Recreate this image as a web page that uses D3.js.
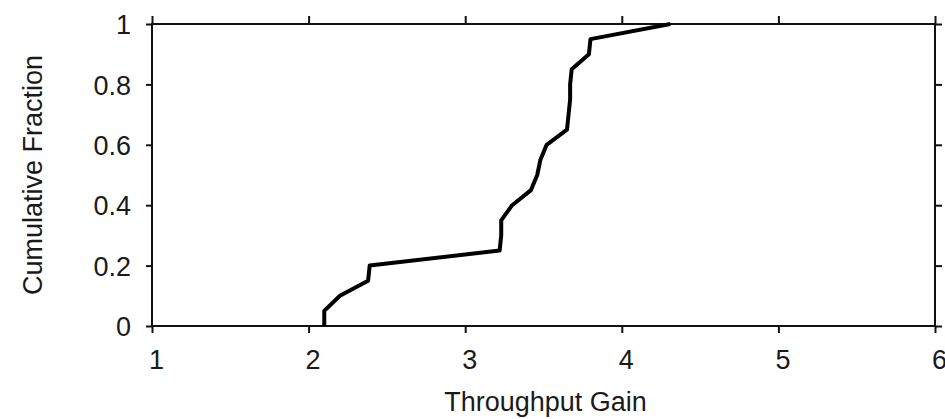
<!DOCTYPE html>
<html>
<head>
<meta charset="utf-8">
<script src="https://cdn.jsdelivr.net/npm/d3@7"></script>
<style>
  html, body { margin: 0; padding: 0; background: #fff; }
  svg { display: block; }
  text { font-family: "Liberation Sans", Arial, Helvetica, sans-serif; fill: #1a1a1a; }
</style>
</head>
<body>
<svg id="chart" width="945" height="419"></svg>
<script>
// Data
const gainValues     = [2.10, 2.10, 2.20, 2.38, 2.39, 3.22, 3.23, 3.23, 3.30, 3.42, 3.46, 3.48, 3.52, 3.65, 3.66, 3.67, 3.67, 3.68, 3.79, 3.80, 4.31];
const fractionValues = [0.00, 0.05, 0.10, 0.15, 0.20, 0.25, 0.30, 0.35, 0.40, 0.45, 0.50, 0.55, 0.60, 0.65, 0.70, 0.75, 0.80, 0.85, 0.90, 0.95, 1.00];
const xTicks = [1, 2, 3, 4, 5, 6];
const yTicks = [0, 0.2, 0.4, 0.6, 0.8, 1];
const yTickLabels = ["0", "0.2", "0.4", "0.6", "0.8", "1"];
const xTitle = "Throughput Gain";
const yTitle = "Cumulative Fraction";

(function () {
const svg = d3.select("#chart");
const pL = 152, pR = 935, pT = 24, pB = 326;

const x = d3.scaleLinear().domain([1, 6]).range([pL, pR]);
const y = d3.scaleLinear().domain([0, 1]).range([pB, pT]);

const fontSize = 27;

// Bottom axis with labels
const gB = svg.append("g").attr("transform", `translate(0,${pB})`)
  .call(d3.axisBottom(x).tickValues(xTicks).tickSizeInner(7).tickSizeOuter(0).tickFormat(d3.format("d")));
gB.selectAll("text").attr("font-size", fontSize).attr("dx", 4).attr("y", 0).attr("dy", 43)
  .style("font-family", "'Liberation Sans', Arial, sans-serif").attr("fill", "#1a1a1a");

// Top axis ticks only
const gT = svg.append("g").attr("transform", `translate(0,${pT})`)
  .call(d3.axisTop(x).tickValues(xTicks).tickSizeInner(8).tickSizeOuter(0).tickFormat(""));

// Left axis with labels
const gL = svg.append("g").attr("transform", `translate(${pL},0)`)
  .call(d3.axisLeft(y).tickValues(yTicks).tickSizeInner(6).tickSizeOuter(0)
    .tickFormat((d, i) => yTickLabels[i]));
gL.selectAll("text").attr("font-size", fontSize).attr("x", -21).attr("dy", "0.36em")
  .style("font-family", "'Liberation Sans', Arial, sans-serif").attr("fill", "#1a1a1a");

// Right axis ticks only
const gR = svg.append("g").attr("transform", `translate(${pR},0)`)
  .call(d3.axisRight(y).tickValues(yTicks).tickSizeInner(7).tickSizeOuter(0).tickFormat(""));

[gB, gT, gL, gR].forEach(g => {
  g.select(".domain").remove();
  g.selectAll("line").attr("stroke", "#111").attr("stroke-width", 2);
});

// Frame
svg.append("rect")
  .attr("x", x(1)).attr("y", y(1))
  .attr("width", x(6) - x(1)).attr("height", y(0) - y(1))
  .attr("fill", "none").attr("stroke", "#111").attr("stroke-width", 2);

// CDF curve
const pts = gainValues.map((g, i) => [g, fractionValues[i]]);
const line = d3.line().x(d => x(d[0])).y(d => y(d[1]));
svg.append("path")
  .datum(pts)
  .attr("d", line)
  .attr("fill", "none")
  .attr("stroke", "#000")
  .attr("stroke-width", 4)
  .attr("stroke-linejoin", "round")
  .attr("stroke-linecap", "butt");

// Axis titles
svg.append("text")
  .attr("x", (pL + pR) / 2 + 2)
  .attr("y", 411)
  .attr("text-anchor", "middle")
  .attr("font-size", fontSize)
  .text(xTitle);

svg.append("text")
  .attr("transform", `translate(42,${(pT + pB) / 2}) rotate(-90)`)
  .attr("text-anchor", "middle")
  .attr("font-size", fontSize)
  .text(yTitle);
})();
</script>
</body>
</html>
